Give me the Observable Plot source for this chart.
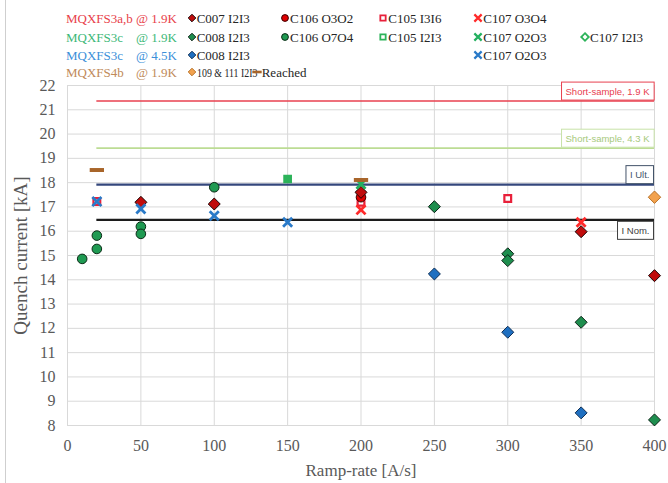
<!DOCTYPE html>
<html><head><meta charset="utf-8">
<script src="https://cdn.jsdelivr.net/npm/d3@7"></script>
<script src="https://cdn.jsdelivr.net/npm/@observablehq/plot@0.6"></script>
<style>
body{margin:0;background:#fff;}
#wrap{position:relative;width:668px;height:483px;overflow:hidden;font-family:"Liberation Serif",serif;background:#fff;}
#legend{position:relative;height:76px;}
.lg{position:absolute;white-space:nowrap;font-size:13px;line-height:1;transform:translateY(-50%);transform-origin:left center;color:#262626;}
.lg svg{position:absolute;}
#border{position:absolute;left:5px;top:0;bottom:0;width:1px;background:#cfcfcf;}
</style></head><body>
<div id="wrap"><div id="legend"></div><div id="chart"></div><div id="border"></div></div>
<script>
// ---- axis ticks
const xTicks = [0, 50, 100, 150, 200, 250, 300, 350, 400];
const yTicks = [8, 9, 10, 11, 12, 13, 14, 15, 16, 17, 18, 19, 20, 21, 22];

// ---- legend groups
const groupNames = ["MQXFS3a,b", "MQXFS3c", "MQXFS3c", "MQXFS4b"];
const groupTemps = ["@ 1.9K", "@ 1.9K", "@ 4.5K", "@ 1.9K"];
const groupColors = ["#e8414a", "#3cb878", "#3b8fd9", "#c08a5a"];

// ---- series values (ramp-rate A/s, quench current kA)
// MQXFS3a,b @ 1.9K
const c007_I2I3_x = [50, 100, 200, 350, 400];
const c007_I2I3_y = [17.19, 17.12, 17.6, 15.98, 14.17];
const c106_O3O2_x = [200];
const c106_O3O2_y = [17.4];
const c105_I3I6_x = [20, 200, 300];
const c105_I3I6_y = [17.22, 17.19, 17.35];
const c107_O3O4_x = [200, 350];
const c107_O3O4_y = [16.88, 16.37];
// MQXFS3c @ 1.9K
const c008_I2I3_19_x = [250, 300, 300, 350, 400];
const c008_I2I3_19_y = [17.01, 15.07, 14.79, 12.25, 8.23];
const c106_O7O4_x = [10, 20, 20, 50, 50, 100];
const c106_O7O4_y = [14.86, 15.82, 15.27, 16.19, 15.89, 17.81];
const c105_I2I3_x = [150];
const c105_I2I3_y = [18.15];
const c107_O2O3_19_x = [200];
const c107_O2O3_19_y = [17.94];
const c107_I2I3_x = [];
const c107_I2I3_y = [];
// MQXFS3c @ 4.5K
const c008_I2I3_45_x = [250, 300, 350];
const c008_I2I3_45_y = [14.24, 11.84, 8.52];
const c107_O2O3_45_x = [20, 50, 100, 150];
const c107_O2O3_45_y = [17.22, 16.92, 16.64, 16.37];
// MQXFS4b @ 1.9K
const m109_111_x = [400];
const m109_111_y = [17.4];
const reached_x = [20, 200];
const reached_y = [18.52, 18.11];

// ---- reference lines
const refLabels = ["Short-sample, 1.9 K", "Short-sample, 4.3 K", "I Ult.", "I Nom."];
const refValues = [21.36, 19.42, 17.92, 16.47];
const refFrom = [20, 20, 20, 20];
const refTo = [400, 400, 400, 400];

// ---- styles
const dashSym = {draw(ctx, size) {
  const r = Math.sqrt(size / Math.PI);
  ctx.moveTo(-1.3 * r, -0.36 * r); ctx.lineTo(1.3 * r, -0.36 * r);
  ctx.lineTo(1.3 * r, 0.36 * r); ctx.lineTo(-1.3 * r, 0.36 * r); ctx.closePath();
}};
const refStyles = [
  {stroke: "#e8404f", width: 1.6, text: "#e8404f", box: "#e8404f", below: false},
  {stroke: "#bcdc94", width: 1.6, text: "#a6c97c", box: "#c8e2a8", below: false},
  {stroke: "#34477c", width: 2.4, text: "#44546a", box: "#44546a", below: false},
  {stroke: "#1c1c1c", width: 2.2, text: "#404040", box: "#404040", below: true}
];

const series = [
  {name: "C106 O7O4", x: c106_O7O4_x, y: c106_O7O4_y, sym: d3.symbolCircle, r: 4.8, fill: "#1f9a52", stroke: "#0b2b16", sw: 1, row: 1, col: 1},
  {name: "C008 I2I3", x: c008_I2I3_19_x, y: c008_I2I3_19_y, sym: d3.symbolDiamond2, r: 5.4, fill: "#1e8e4e", stroke: "#0b2216", sw: 1, row: 1, col: 0},
  {name: "C008 I2I3", x: c008_I2I3_45_x, y: c008_I2I3_45_y, sym: d3.symbolDiamond2, r: 5.4, fill: "#1f6fc0", stroke: "#0f2f55", sw: 1, row: 2, col: 0},
  {name: "C105 I2I3", x: c105_I2I3_x, y: c105_I2I3_y, sym: d3.symbolSquare2, r: 4.6, fill: "#2db35a", stroke: "#2db35a", sw: 1.5, row: 1, col: 2, hollowLegend: true},
  {name: "C107 I2I3", x: c107_I2I3_x, y: c107_I2I3_y, sym: d3.symbolDiamond2, r: 4.5, fill: "white", stroke: "#2db35a", sw: 2, row: 1, col: 4},
  {name: "C105 I3I6", x: c105_I3I6_x, y: c105_I3I6_y, sym: d3.symbolSquare2, r: 4.3, fill: "white", stroke: "#e8203a", sw: 2.2, row: 0, col: 2},
  {name: "C106 O3O2", x: c106_O3O2_x, y: c106_O3O2_y, sym: d3.symbolCircle, r: 4.8, fill: "#e00000", stroke: "#3a0000", sw: 1, row: 0, col: 1},
  {name: "C007 I2I3", x: c007_I2I3_x, y: c007_I2I3_y, sym: d3.symbolDiamond2, r: 5.4, fill: "#c00c0c", stroke: "#1a0505", sw: 1, row: 0, col: 0},
  {name: "C107 O3O4", x: c107_O3O4_x, y: c107_O3O4_y, sym: d3.symbolTimes, r: 4.2, fill: "none", stroke: "#ff2a2a", sw: 2.8, row: 0, col: 3},
  {name: "C107 O2O3", x: c107_O2O3_45_x, y: c107_O2O3_45_y, sym: d3.symbolTimes, r: 4.2, fill: "none", stroke: "#2a7ac8", sw: 2.8, row: 2, col: 3},
  {name: "C107 O2O3", x: c107_O2O3_19_x, y: c107_O2O3_19_y, sym: d3.symbolTimes, r: 4.2, fill: "none", stroke: "#24b060", sw: 2.8, row: 1, col: 3},
  {name: "109 & 111 I2I3", x: m109_111_x, y: m109_111_y, sym: d3.symbolDiamond2, r: 5.6, fill: "#f2a24e", stroke: "#b8732a", sw: 1, row: 3, col: 0, squeeze: 0.76},
  {name: "Reached", x: reached_x, y: reached_y, sym: dashSym, r: 5.5, fill: "#a8652a", stroke: "none", sw: 0, row: 3, col: 5}
];

// ---- legend
const rowY = [18.3, 36.7, 55, 71.7];
const colX = [191.7, 285, 383.3, 478.3, 585, 256.7];
const legend = document.getElementById("legend");
groupNames.forEach((g, i) => {
  const a = document.createElement("div");
  a.className = "lg"; a.style.left = "66px"; a.style.top = rowY[i] + "px"; a.style.color = groupColors[i];
  a.textContent = g; legend.appendChild(a);
  const b = document.createElement("div");
  b.className = "lg"; b.style.left = "136px"; b.style.top = rowY[i] + "px"; b.style.color = groupColors[i];
  b.textContent = groupTemps[i]; legend.appendChild(b);
});
series.slice().sort((a, b) => a.row - b.row || a.col - b.col).forEach(s => {
  const cx = colX[s.col], cy = rowY[s.row];
  const lr = s.sym === dashSym ? 3.6 : 3.4;
  const path = d3.symbol(s.sym, lr * lr * Math.PI)();
  const svg = d3.select(legend).append("svg")
    .style("position", "absolute").style("left", (cx - 7) + "px").style("top", (cy - 7) + "px")
    .attr("width", 14).attr("height", 14);
  svg.append("path").attr("d", path).attr("transform", "translate(7,7)")
    .attr("fill", s.hollowLegend ? "white" : s.fill)
    .attr("stroke", s.stroke)
    .attr("stroke-width", s.sym === d3.symbolTimes ? 2.2 : (s.fill === "white" || s.hollowLegend ? 1.8 : 1));
  const t = document.createElement("div");
  t.className = "lg"; t.style.left = (cx + 5) + "px"; t.style.top = cy + "px";
  if (s.squeeze) t.style.transform = `translateY(-50%) scaleX(${s.squeeze})`;
  t.textContent = s.name; legend.appendChild(t);
});

// ---- plot
const refRows = refLabels.map((label, i) => ({label, value: refValues[i], from: refFrom[i], to: refTo[i], ...refStyles[i]}));
const marks = [
  Plot.ruleX(xTicks, {stroke: "#d9d9d9", strokeWidth: 1}),
  Plot.ruleY(yTicks, {stroke: "#d9d9d9", strokeWidth: 1})
];
refRows.forEach(r => {
  marks.push(Plot.ruleY([r], {y: "value", x1: "from", x2: "to", stroke: r.stroke, strokeWidth: r.width}));
});
series.forEach(s => {
  const rows = s.x.map((x, i) => ({x, y: s.y[i]}));
  marks.push(Plot.dot(rows, {x: "x", y: "y", symbol: s.sym, r: s.r, fill: s.fill, stroke: s.stroke, strokeWidth: s.sw}));
});
refRows.forEach(r => {
  marks.push(Plot.text([r], {x: "to", y: "value", text: "label", textAnchor: "end", dx: -5, dy: r.below ? 11 : -9.5,
    fill: r.text, fontSize: 9.5, fontFamily: "Liberation Sans"}));
});
marks.push(Plot.text(["Quench current [kA]"], {text: d => d, frameAnchor: "left", textAnchor: "middle", lineAnchor: "middle", dx: -47, rotate: -90, fontSize: 19, fill: "#595959"}));
marks.push(Plot.text(["Ramp-rate [A/s]"], {text: d => d, frameAnchor: "bottom", textAnchor: "middle", lineAnchor: "middle", dy: 45, fontSize: 17, fill: "#595959"}));

const chart = Plot.plot({
  width: 668, height: 407,
  marginTop: 9, marginBottom: 58, marginLeft: 67, marginRight: 14,
  style: {fontFamily: "Liberation Serif", fontSize: "16px", color: "#595959", background: "white", overflow: "visible"},
  x: {domain: [0, 400], ticks: xTicks, tickSize: 0, tickPadding: 14, label: null},
  y: {domain: [8, 22], ticks: yTicks, tickSize: 0, tickPadding: 12, label: null},
  marks
});
document.getElementById("chart").appendChild(chart);

// boxes around reference labels
const NS = "http://www.w3.org/2000/svg";
Array.from(chart.querySelectorAll("text")).forEach(t => {
  const idx = refLabels.indexOf(t.textContent.trim());
  if (idx < 0) return;
  const bb = t.getBBox();
  const rect = document.createElementNS(NS, "rect");
  rect.setAttribute("x", bb.x - 4);
  rect.setAttribute("y", bb.y - 3.5);
  rect.setAttribute("width", bb.width + 8);
  rect.setAttribute("height", bb.height + 7);
  rect.setAttribute("fill", "white");
  rect.setAttribute("stroke", refStyles[idx].box);
  rect.setAttribute("stroke-width", 1);
  const tr = t.getAttribute("transform");
  if (tr) rect.setAttribute("transform", tr);
  t.parentNode.insertBefore(rect, t);
});
</script>
</body></html>
